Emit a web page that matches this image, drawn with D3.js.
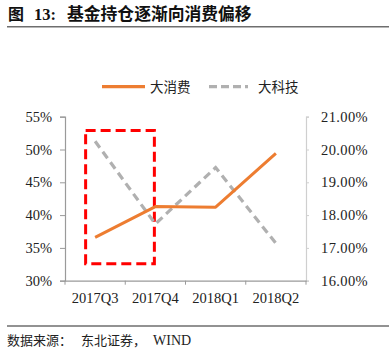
<!DOCTYPE html>
<html><head><meta charset="utf-8">
<script src="https://cdn.jsdelivr.net/npm/d3@7"></script>
<style>
body{margin:0;background:#fff;}
svg{display:block;}
</style></head>
<body>
<svg id="c" width="389" height="356"></svg>
<script>
const categories = ["2017Q3","2017Q4","2018Q1","2018Q2"];
const consumption = [36.6, 41.3, 41.2, 49.4];   // 大消费, left axis (%)
const technology = [20.25, 17.73, 19.45, 17.14]; // 大科技, right axis (%)
const leftTicks = [30,35,40,45,50,55];
const rightTicks = [16,17,18,19,20,21];
const seriesNames = ["大消费","大科技"];
const highlight = {from:"2017Q3", to:"2017Q4", top:52.9, bottom:32.6};

const svg = d3.select("#c");
const L = 65, R = 306, T = 116.7, B = 280.7;
const serif = "'Liberation Serif','Times New Roman',serif";
const cjk = "'Noto Sans CJK SC','Noto Sans',sans-serif";

const x = d3.scaleBand().domain(categories).range([L, R]);
const yL = d3.scaleLinear().domain([30,55]).range([B, T]);
const yR = d3.scaleLinear().domain([16,21]).range([B, T]);

// Title
const title = svg.append("text").attr("y", 20).attr("font-weight","bold").attr("fill","#111");
title.append("tspan").attr("x",8).attr("font-family",cjk).attr("font-size",16).text("图");
title.append("tspan").attr("x",34).attr("font-family",serif).attr("font-size",16.5).text("13:");
title.append("tspan").attr("x",67).attr("font-family",cjk).attr("font-size",16.8).text("基金持仓逐渐向消费偏移");
svg.append("line").attr("x1",7).attr("x2",389).attr("y1",26.7).attr("y2",26.7).attr("stroke","#6e6e6e").attr("stroke-width",1.6);

// Left axis
const gL = svg.append("g").attr("transform",`translate(${L},0)`)
  .call(d3.axisLeft(yL).tickValues(leftTicks).tickSize(5).tickPadding(8).tickFormat(d=>d+"%"));
gL.select(".domain").attr("stroke","#9a9a9a").attr("stroke-width",1.2);
gL.selectAll(".tick line").attr("stroke","#9a9a9a");
gL.selectAll(".tick text").attr("font-family",serif).attr("font-size",14.5).attr("fill","#222");

// Right axis
const gR = svg.append("g").attr("transform",`translate(${R},0)`)
  .call(d3.axisRight(yR).tickValues(rightTicks).tickSize(3).tickPadding(12).tickFormat(d=>d.toFixed(2)+"%"));
gR.select(".domain").attr("stroke","#cfcfcf").attr("stroke-width",1.2);
gR.selectAll(".tick line").attr("stroke","#cfcfcf");
gR.selectAll(".tick text").attr("font-family",serif).attr("font-size",14.5).attr("fill","#222").attr("letter-spacing",0.4);

// Bottom axis
const gB = svg.append("g").attr("transform",`translate(0,${B})`)
  .call(d3.axisBottom(x).tickSize(0).tickPadding(12));
gB.select(".domain").attr("stroke","#9a9a9a").attr("stroke-width",1.2);
gB.selectAll(".tick text").attr("font-family",serif).attr("font-size",14.5).attr("fill","#222");
// category boundary ticks
const bounds = categories.map(c=>x(c)).concat([x(categories[categories.length-1])+x.bandwidth()]);
svg.append("g").selectAll("line").data(bounds).join("line")
  .attr("x1",d=>d).attr("x2",d=>d).attr("y1",B).attr("y2",B+4)
  .attr("stroke","#9a9a9a").attr("stroke-width",1);

const cx = c => x(c) + x.bandwidth()/2;

// Highlight rectangle
svg.append("rect")
  .attr("x", cx(highlight.from) - 9.5)
  .attr("y", yL(highlight.top))
  .attr("width", cx(highlight.to) - 1 - (cx(highlight.from) - 9.5))
  .attr("height", yL(highlight.bottom) - yL(highlight.top))
  .attr("fill","none").attr("stroke","#ff0000").attr("stroke-width",3)
  .attr("stroke-dasharray","10,5");

// Lines
const lineL = d3.line().x((d,i)=>cx(categories[i])).y(d=>yL(d));
const lineR = d3.line().x((d,i)=>cx(categories[i])).y(d=>yR(d));
svg.append("path").datum(technology).attr("d",lineR).attr("fill","none")
  .attr("stroke","#b0b0b0").attr("stroke-width",3.2).attr("stroke-dasharray","8,5");
svg.append("path").datum(consumption).attr("d",lineL).attr("fill","none")
  .attr("stroke","#ed7d31").attr("stroke-width",3).attr("stroke-linejoin","round");

// Legend
const lg = svg.append("g");
lg.append("line").attr("x1",102).attr("x2",145).attr("y1",86.7).attr("y2",86.7)
  .attr("stroke","#ed7d31").attr("stroke-width",3.2);
lg.append("text").attr("x",150).attr("y",91.5).attr("font-family",cjk).attr("font-size",13.5).attr("fill","#222").text(seriesNames[0]);
lg.append("line").attr("x1",209).attr("x2",248).attr("y1",86.7).attr("y2",86.7)
  .attr("stroke","#b0b0b0").attr("stroke-width",3.2).attr("stroke-dasharray","8,4");
lg.append("text").attr("x",258).attr("y",91.5).attr("font-family",cjk).attr("font-size",13.5).attr("fill","#222").text(seriesNames[1]);

// Footer
svg.append("line").attr("x1",7).attr("x2",389).attr("y1",326).attr("y2",326).attr("stroke","#6e6e6e").attr("stroke-width",1.4);
const ft = svg.append("text").attr("y",345).attr("fill","#222");
ft.append("tspan").attr("x",7).attr("font-family",cjk).attr("font-size",13).text("数据来源：");
ft.append("tspan").attr("x",81).attr("font-family",cjk).attr("font-size",13).text("东北证券，");
ft.append("tspan").attr("x",153).attr("font-family",serif).attr("font-size",14).text("WIND");
</script>
</body></html>
